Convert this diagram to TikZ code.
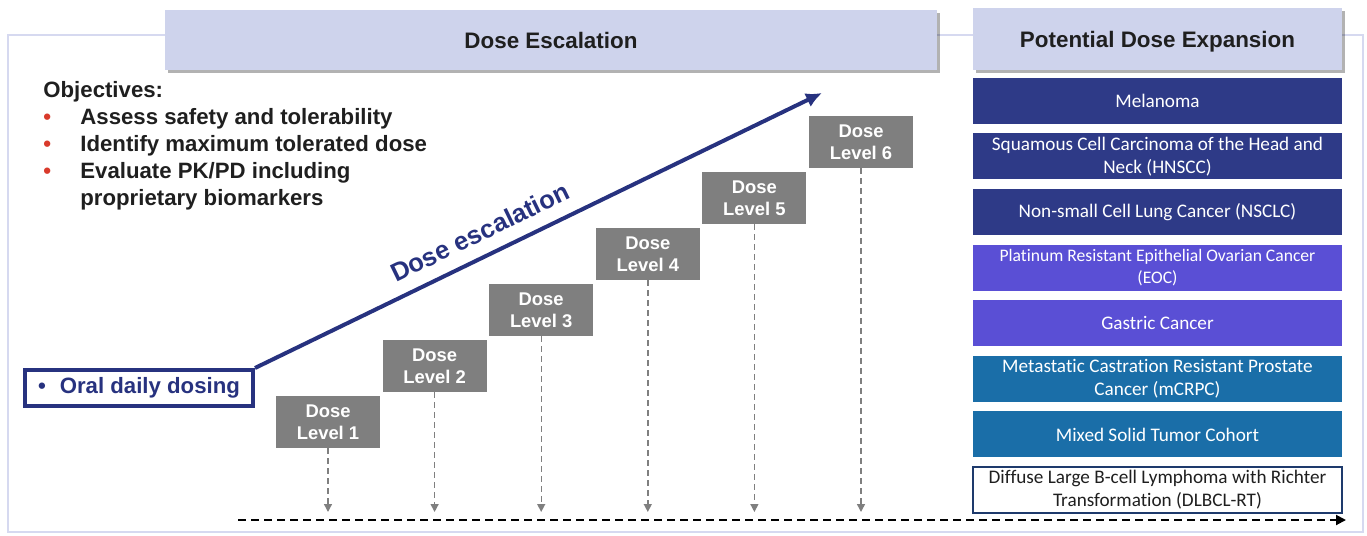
\documentclass[tikz,border=0pt]{standalone}
\usepackage{fontspec}
\setmainfont{Liberation Sans}
\newfontfamily\carlito[Ligatures=NoCommon]{Carlito}
\usetikzlibrary{arrows.meta,positioning,shadows}

\definecolor{headfill}{HTML}{CED3EC}
\definecolor{framelav}{HTML}{D6D9F0}
\definecolor{navy}{HTML}{27327F}
\definecolor{cohnavy}{HTML}{2E3A87}
\definecolor{cohpurple}{HTML}{5A4FD5}
\definecolor{cohteal}{HTML}{1A6EA8}
\definecolor{rtborder}{HTML}{1E3A6C}
\definecolor{levelgrey}{HTML}{7F7F7F}
\definecolor{inkdark}{HTML}{1F1F1F}
\definecolor{bulletred}{HTML}{D93A2B}

\begin{document}
\begin{tikzpicture}[x=0.5pt,y=-0.5pt,>=latex,
  headbox/.style={fill=headfill,minimum height=30pt,inner sep=0pt,text=inkdark,
    text depth=0pt,font=\bfseries\fontsize{11.2}{13}\selectfont,
    drop shadow={shadow xshift=1.5pt,shadow yshift=-1.5pt,fill=black,opacity=0.3}},
  cohort/.style={minimum width=184.5pt,minimum height=23pt,inner sep=0pt,align=center,
    text=white,font=\carlito\fontsize{9.6}{11.5}\selectfont},
  doselevel/.style={fill=levelgrey,minimum width=52pt,minimum height=26pt,inner sep=0pt,
    align=center,text=white,font=\bfseries\fontsize{9.2}{10.8}\selectfont},
  levelline/.style={levelgrey,line width=0.7pt,dash pattern=on 3pt off 2pt,
    -{Triangle[length=4pt,width=4pt]}},
  timeline/.style={black,line width=1pt,dash pattern=on 4pt off 2.5pt,
    -{Triangle[length=5pt,width=5pt]}}]
\useasboundingbox (0,0) rectangle (1367,536);

% frame round both phases
\draw[framelav,line width=1pt] (8,35) rectangle (1363,532);

% phase headers
\node (esc) [headbox,minimum width=386pt] at (551,40) {Dose Escalation};
\node (exp) [headbox,minimum width=184.5pt,minimum height=31pt] at (1157.5,39) {Potential Dose Expansion};

% expansion cohorts
\node (mel) [cohort,fill=cohnavy,below=3.5pt of exp] {Melanoma};
\node (hnscc) [cohort,fill=cohnavy,below=4.4pt of mel] {Squamous Cell Carcinoma of the Head and\\Neck (HNSCC)};
\node (nsclc) [cohort,fill=cohnavy,below=4.4pt of hnscc] {Non-small Cell Lung Cancer (NSCLC)};
\node (eoc) [cohort,fill=cohpurple,below=4.4pt of nsclc,font=\carlito\fontsize{8.8}{11}\selectfont] {Platinum Resistant Epithelial Ovarian Cancer\\(EOC)};
\node (gastric) [cohort,fill=cohpurple,below=4.4pt of eoc] {Gastric Cancer};
\node (mcrpc) [cohort,fill=cohteal,below=4.4pt of gastric] {Metastatic Castration Resistant Prostate\\Cancer (mCRPC)};
\node (mixed) [cohort,fill=cohteal,below=4.4pt of mcrpc] {Mixed Solid Tumor Cohort};
\node (dlbcl) [cohort,draw=rtborder,line width=1pt,fill=white,text=inkdark,below=4pt of mixed] {Diffuse Large B-cell Lymphoma with Richter\\Transformation (DLBCL-RT)};

% objectives
\node (obj) [anchor=north west,inner sep=0pt,align=left,text=inkdark,
  font=\bfseries\fontsize{11.1}{13.5}\selectfont] at (43,81)
  {Objectives:\\
   \makebox[18.5pt][l]{\textcolor{bulletred}{\textbullet}}Assess safety and tolerability\\
   \makebox[18.5pt][l]{\textcolor{bulletred}{\textbullet}}Identify maximum tolerated dose\\
   \makebox[18.5pt][l]{\textcolor{bulletred}{\textbullet}}Evaluate PK/PD including\\
   \hspace*{18.5pt}proprietary biomarkers};

\node (oral) [draw=navy,line width=2pt,fill=white,minimum width=114pt,minimum height=18pt,
  text=navy,font=\bfseries\fontsize{11.1}{13}\selectfont] at (139,388)
  {\textbullet\hspace{7pt}Oral daily dosing};

% escalation arrow
\coordinate (top) at (822,93);
\draw[navy,line width=2pt,-{Latex[length=8pt,width=7.5pt]}] (oral.north east) -- (top)
  node[pos=0.415,sloped,above=3pt,font=\bfseries\fontsize{12.8}{15}\selectfont] {Dose escalation};

% dose levels
\node (lv1) [doselevel] at (328,422) {Dose\\Level 1};
\node (lv2) [doselevel,above right=1.6pt and 0.9pt of lv1] {Dose\\Level 2};
\node (lv3) [doselevel,above right=1.6pt and 0.9pt of lv2] {Dose\\Level 3};
\node (lv4) [doselevel,above right=1.6pt and 0.9pt of lv3] {Dose\\Level 4};
\node (lv5) [doselevel,above right=1.6pt and 0.9pt of lv4] {Dose\\Level 5};
\node (lv6) [doselevel,above right=1.6pt and 0.9pt of lv5] {Dose\\Level 6};

\coordinate (base) at (0,512);
\draw[levelline] (lv1.south) -- (lv1.south |- base);
\draw[levelline] (lv2.south) -- (lv2.south |- base);
\draw[levelline] (lv3.south) -- (lv3.south |- base);
\draw[levelline] (lv4.south) -- (lv4.south |- base);
\draw[levelline] (lv5.south) -- (lv5.south |- base);
\draw[levelline] (lv6.south) -- (lv6.south |- base);

% time axis
\coordinate (t0) at (238,520);
\coordinate (t1) at (1346,520);
\draw[timeline] (t0) -- (t1);
\end{tikzpicture}
\end{document}
